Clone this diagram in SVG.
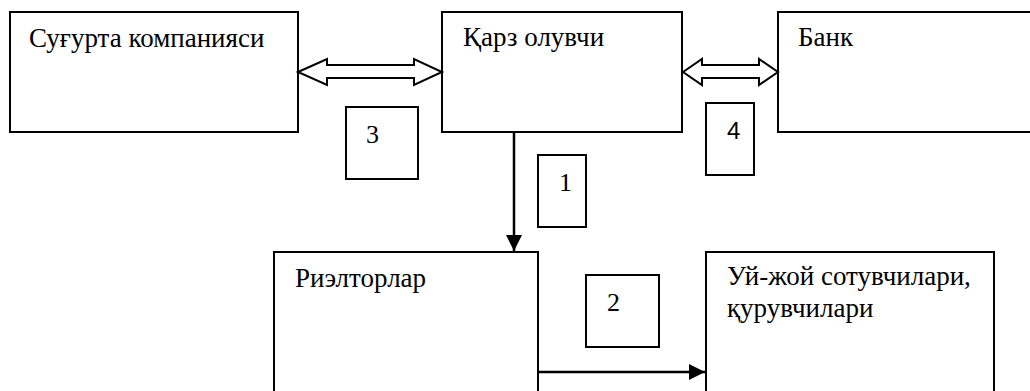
<svg xmlns="http://www.w3.org/2000/svg" width="1030" height="391" viewBox="0 0 1030 391">
<style>
.box{fill:#fff;stroke:#000;stroke-width:2}
.lbl{font-family:'Liberation Serif','Times New Roman',serif;font-size:27px;fill:#000}
.num{font-family:'Liberation Serif','Times New Roman',serif;font-size:26px;fill:#000}
.sans{font-family:'Liberation Sans',Arial,sans-serif;font-size:24px;fill:#000}
.conn{stroke:#000;stroke-width:2.5;fill:none}
.dbl{fill:#fff;stroke:#000;stroke-width:2;stroke-linejoin:miter}
</style>
<defs>
<marker id="ah" markerWidth="16" markerHeight="16" refX="16" refY="8" orient="auto" markerUnits="userSpaceOnUse" viewBox="0 0 16 16">
<path d="M0,0 L16,8 L0,16 Z" fill="#000"/>
</marker>
</defs>
<rect width="1030" height="391" fill="#fff"/>
<g id="node-sugurta">
<rect class="box" x="10" y="12" width="288" height="120"/>
<text class="lbl" x="29" y="47">Суғурта компанияси</text>
</g>
<g id="node-qarz">
<rect class="box" x="442" y="12" width="240" height="120"/>
<text class="lbl" x="463" y="46">Қарз олувчи</text>
</g>
<g id="node-bank">
<rect class="box" x="778" y="12" width="270" height="120"/>
<text class="lbl" x="798" y="46">Банк</text>
</g>
<g id="node-3">
<rect class="box" x="346" y="107" width="72" height="72"/>
<text class="num" x="366" y="143">3</text>
</g>
<g id="node-4">
<rect class="box" x="706" y="103" width="48" height="72"/>
<text class="sans" x="727" y="139">4</text>
</g>
<g id="node-1">
<rect class="box" x="538" y="155" width="48" height="72"/>
<text class="num" x="559" y="191">1</text>
</g>
<g id="node-rieltor">
<rect class="box" x="274" y="252" width="264" height="160"/>
<text class="lbl" x="295" y="287">Риэлторлар</text>
</g>
<g id="node-2">
<rect class="box" x="586" y="275" width="73" height="72"/>
<text class="num" x="607" y="311">2</text>
</g>
<g id="node-uyjoy">
<rect class="box" x="706" y="252" width="288" height="160"/>
<text class="lbl" x="727" y="285">Уй-жой сотувчилари,</text>
<text class="lbl" x="727" y="317">қурувчилари</text>
</g>
<g id="connectors">
<polygon class="dbl" points="298,72 327,59 327,65 414,65 414,59 442,72 414,85 414,78 327,78 327,85"/>
<polygon class="dbl" points="683,72 702,59 702,65 759,65 759,59 778,72 759,85 759,78 702,78 702,85"/>
<line class="conn" x1="514" y1="132" x2="514" y2="251" marker-end="url(#ah)"/>
<line class="conn" x1="538" y1="372" x2="705" y2="372" marker-end="url(#ah)"/>
</g>
</svg>
